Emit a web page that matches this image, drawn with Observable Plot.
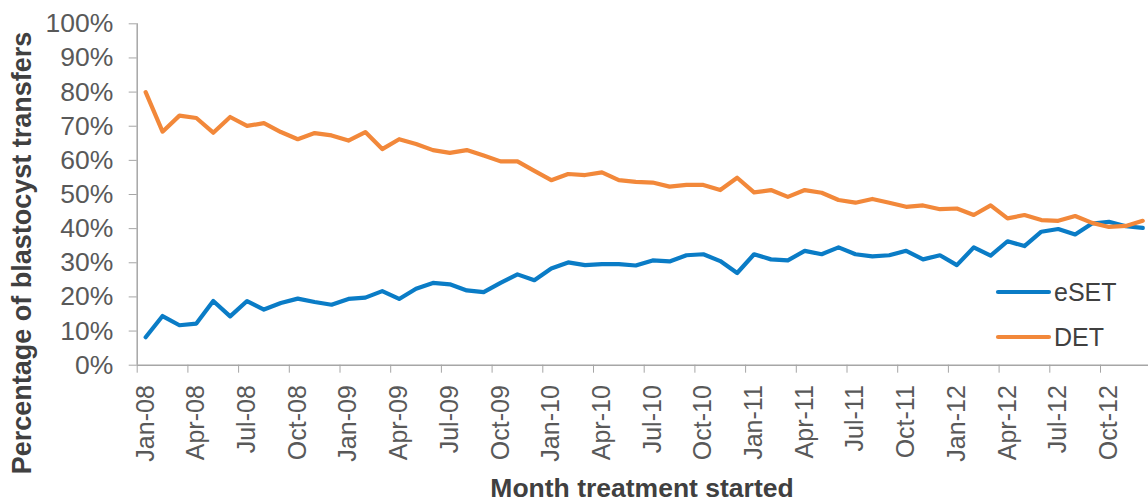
<!DOCTYPE html>
<html>
<head>
<meta charset="utf-8">
<script src="https://cdn.jsdelivr.net/npm/d3@7"></script>
<script src="https://cdn.jsdelivr.net/npm/@observablehq/plot@0.6"></script>
<style>
  html, body { margin: 0; padding: 0; background: #fff; }
  #chart { width: 1148px; height: 502px; }
</style>
</head>
<body>
<div id="chart"></div>
<script>
const months = [
  "Jan-08","Feb-08","Mar-08","Apr-08","May-08","Jun-08","Jul-08","Aug-08","Sep-08","Oct-08","Nov-08","Dec-08",
  "Jan-09","Feb-09","Mar-09","Apr-09","May-09","Jun-09","Jul-09","Aug-09","Sep-09","Oct-09","Nov-09","Dec-09",
  "Jan-10","Feb-10","Mar-10","Apr-10","May-10","Jun-10","Jul-10","Aug-10","Sep-10","Oct-10","Nov-10","Dec-10",
  "Jan-11","Feb-11","Mar-11","Apr-11","May-11","Jun-11","Jul-11","Aug-11","Sep-11","Oct-11","Nov-11","Dec-11",
  "Jan-12","Feb-12","Mar-12","Apr-12","May-12","Jun-12","Jul-12","Aug-12","Sep-12","Oct-12","Nov-12","Dec-12"
];

const eSET = [
  8.2, 14.4, 11.7, 12.2, 18.8, 14.3, 18.8, 16.3, 18.2, 19.5, 18.5, 17.7,
  19.4, 19.8, 21.7, 19.4, 22.4, 24.1, 23.7, 21.9, 21.4, 24.1, 26.6, 24.9,
  28.3, 30.1, 29.3, 29.6, 29.6, 29.2, 30.7, 30.4, 32.2, 32.5, 30.5, 27.0,
  32.5, 31.0, 30.7, 33.5, 32.5, 34.5, 32.5, 31.9, 32.2, 33.5, 31.0, 32.2,
  29.3, 34.5, 32.1, 36.3, 34.9, 39.1, 39.9, 38.3, 41.5, 42.0, 40.7, 40.2
];

const DET = [
  80.0, 68.4, 73.1, 72.4, 68.1, 72.7, 70.1, 70.9, 68.3, 66.2, 68.0, 67.3,
  65.8, 68.3, 63.3, 66.2, 64.8, 63.0, 62.2, 63.0, 61.4, 59.7, 59.7, 56.9,
  54.2, 56.0, 55.7, 56.5, 54.2, 53.7, 53.5, 52.3, 52.8, 52.8, 51.3, 54.9,
  50.6, 51.3, 49.3, 51.3, 50.5, 48.4, 47.6, 48.7, 47.6, 46.4, 46.8, 45.7,
  45.9, 44.0, 46.8, 43.0, 44.0, 42.5, 42.3, 43.7, 41.7, 40.5, 40.8, 42.3
];

const seriesNames = ["eSET", "DET"];
const seriesColors = ["#0a7cc6", "#f2883a"];
const tickLabels = ["Jan-08","Apr-08","Jul-08","Oct-08","Jan-09","Apr-09","Jul-09","Oct-09",
  "Jan-10","Apr-10","Jul-10","Oct-10","Jan-11","Apr-11","Jul-11","Oct-11",
  "Jan-12","Apr-12","Jul-12","Oct-12"];
const yTicks = [0,10,20,30,40,50,60,70,80,90,100];

const rows = [];
months.forEach((m, i) => {
  rows.push({i, month: m, series: "eSET", value: eSET[i]});
  rows.push({i, month: m, series: "DET", value: DET[i]});
});

const labelIdx = tickLabels.map(l => months.indexOf(l));
const boundaryIdx = labelIdx.map(i => i - 0.5);

const axisGray = "#a6a6a6";
const textGray = "#595959";
const font = "'Liberation Sans', Arial, sans-serif";

const W = 1148, H = 502;
const plot = Plot.plot({
  width: W,
  height: H,
  marginTop: 23.3,
  marginBottom: 137.3,
  marginLeft: 136.7,
  marginRight: 0,
  style: {fontFamily: font, fontSize: "26px", color: textGray, background: "#fff"},
  x: {domain: [-0.5, months.length - 0.5], range: [136.7, 136.7 + months.length * 16.9]},
  y: {domain: [0, 100]},
  color: {domain: seriesNames, range: seriesColors},
  marks: [
    Plot.ruleY([0], {stroke: axisGray, strokeWidth: 1.5}),
    Plot.ruleX([-0.5], {stroke: axisGray, strokeWidth: 1.5}),
    Plot.axisY({ticks: yTicks, tickSize: 8, tickPadding: 16, tickFormat: d => d + "%",
      stroke: axisGray, fill: textGray, fontSize: 26.5, label: null}),
    Plot.axisX({ticks: boundaryIdx, tickSize: 8, tickFormat: () => "", stroke: axisGray, label: null}),
    Plot.axisX({ticks: labelIdx, tickSize: 0, tickPadding: 20, tickRotate: -90,
      tickFormat: i => months[i], fill: textGray, fontSize: 25, label: null}),
    Plot.line(rows, {x: "i", y: "value", z: "series", stroke: "series", strokeWidth: 4.2,
      strokeLinejoin: "round", strokeLinecap: "round"})
  ]
});

const svg = d3.select(plot);
// axis titles
svg.append("text")
  .attr("transform", "translate(31,253) rotate(-90)")
  .attr("text-anchor", "middle")
  .attr("font-family", font)
  .attr("font-weight", "bold")
  .attr("font-size", 27)
  .attr("fill", "#404040")
  .text("Percentage of blastocyst transfers");
svg.append("text")
  .attr("x", 642).attr("y", 497)
  .attr("text-anchor", "middle")
  .attr("font-family", font)
  .attr("font-weight", "bold")
  .attr("font-size", 26.5)
  .attr("fill", "#404040")
  .text("Month treatment started");

// legend
const legendY = [292, 337];
seriesNames.forEach((name, k) => {
  svg.append("line")
    .attr("x1", 998).attr("x2", 1049)
    .attr("y1", legendY[k]).attr("y2", legendY[k])
    .attr("stroke", seriesColors[k]).attr("stroke-width", 4.2)
    .attr("stroke-linecap", "round");
  svg.append("text")
    .attr("x", 1054).attr("y", legendY[k])
    .attr("dy", "0.35em")
    .attr("text-anchor", "start")
    .attr("font-family", font)
    .attr("font-size", 25)
    .attr("fill", "#404040")
    .text(name);
});

document.getElementById("chart").appendChild(plot);
</script>
</body>
</html>
